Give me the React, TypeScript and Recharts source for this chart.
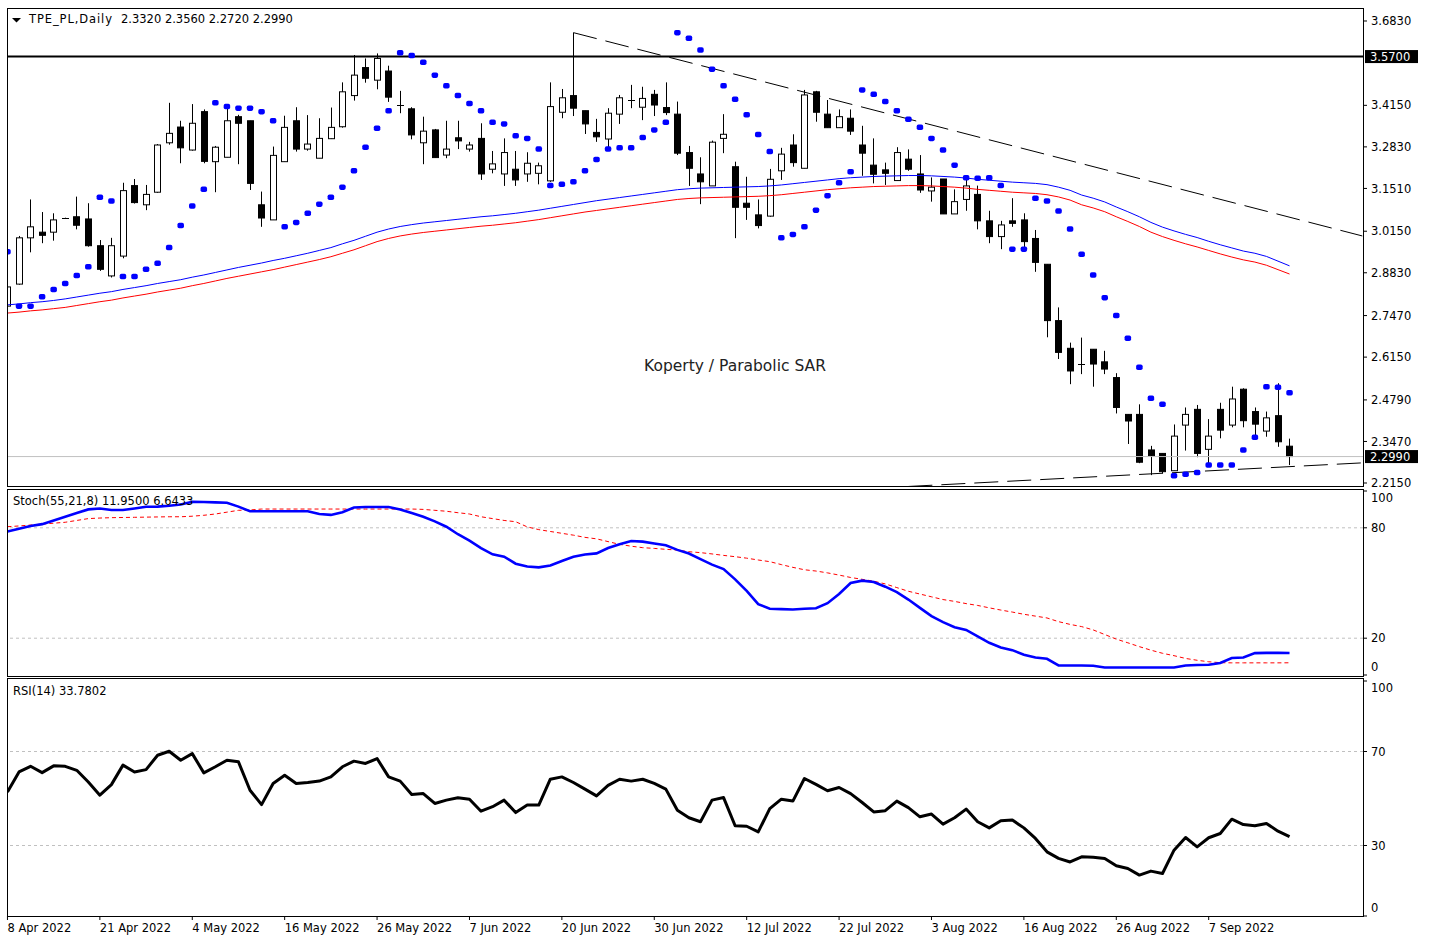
import React from 'react';
import { ComposedChart, Bar, Line, XAxis, YAxis, ReferenceLine } from 'recharts';

// daily candles, one row of 8 per date label
const OPEN = [
  2.777, 2.847, 2.994, 3.012, 3.012, 3.056, 3.061, 3.054,
  2.969, 2.873, 2.936, 3.160, 3.099, 3.139, 3.296, 3.346,
  3.273, 3.395, 3.236, 3.250, 3.379, 3.366, 3.099, 3.051,
  3.236, 3.366, 3.276, 3.247, 3.309, 3.347, 3.446, 3.535,
  3.495, 3.524, 3.416, 3.404, 3.296, 3.337, 3.257, 3.312,
  3.276, 3.310, 3.212, 3.197, 3.212, 3.197, 3.199, 3.175,
  3.393, 3.446, 3.398, 3.329, 3.308, 3.387, 3.432, 3.409,
  3.450, 3.408, 3.387, 3.265, 3.197, 3.159, 3.310, 3.220,
  3.104, 3.067, 3.063, 3.207, 3.289, 3.215, 3.458, 3.387,
  3.344, 3.374, 3.289, 3.225, 3.210, 3.176, 3.244, 3.197,
  3.143, 3.181, 3.070, 3.116, 3.132, 3.048, 2.998, 3.048,
  3.051, 2.992, 2.910, 2.731, 2.643, 2.592, 2.640, 2.600,
  2.550, 2.433, 2.433, 2.320, 2.309, 2.254, 2.399, 2.449,
  2.322, 2.449, 2.399, 2.513, 2.442, 2.380, 2.429, 2.332,
];
const HIGH = [
  2.879, 3.000, 3.116, 3.076, 3.072, 3.058, 3.125, 3.104,
  2.987, 2.994, 3.169, 3.181, 3.162, 3.292, 3.423, 3.366,
  3.419, 3.402, 3.286, 3.411, 3.385, 3.366, 3.141, 3.284,
  3.382, 3.409, 3.384, 3.374, 3.408, 3.488, 3.575, 3.564,
  3.580, 3.541, 3.461, 3.409, 3.379, 3.340, 3.366, 3.366,
  3.299, 3.358, 3.270, 3.310, 3.270, 3.266, 3.233, 3.488,
  3.467, 3.646, 3.398, 3.372, 3.406, 3.448, 3.480, 3.474,
  3.464, 3.488, 3.427, 3.286, 3.250, 3.303, 3.387, 3.236,
  3.188, 3.116, 3.213, 3.280, 3.323, 3.464, 3.461, 3.432,
  3.402, 3.402, 3.350, 3.310, 3.233, 3.282, 3.275, 3.257,
  3.186, 3.181, 3.148, 3.188, 3.160, 3.080, 3.048, 3.120,
  3.072, 3.019, 2.910, 2.773, 2.661, 2.677, 2.640, 2.635,
  2.564, 2.433, 2.465, 2.333, 2.309, 2.401, 2.455, 2.463,
  2.418, 2.470, 2.521, 2.516, 2.455, 2.442, 2.532, 2.356,
];
const LOW = [
  2.770, 2.845, 2.948, 2.977, 2.985, 3.055, 3.021, 2.966,
  2.889, 2.868, 2.929, 3.103, 3.082, 3.137, 3.290, 3.231,
  3.271, 3.231, 3.139, 3.250, 3.228, 3.146, 3.029, 3.051,
  3.236, 3.268, 3.271, 3.247, 3.308, 3.344, 3.430, 3.487,
  3.466, 3.426, 3.390, 3.307, 3.228, 3.249, 3.247, 3.276,
  3.268, 3.178, 3.199, 3.159, 3.159, 3.172, 3.164, 3.172,
  3.374, 3.381, 3.324, 3.299, 3.279, 3.356, 3.406, 3.368,
  3.381, 3.384, 3.257, 3.159, 3.101, 3.159, 3.263, 2.993,
  3.051, 3.024, 3.061, 3.178, 3.220, 3.215, 3.363, 3.344,
  3.343, 3.321, 3.191, 3.167, 3.162, 3.176, 3.207, 3.137,
  3.109, 3.070, 3.070, 3.080, 3.021, 2.977, 2.958, 3.029,
  2.965, 2.886, 2.678, 2.609, 2.529, 2.561, 2.521, 2.561,
  2.436, 2.339, 2.278, 2.240, 2.246, 2.254, 2.318, 2.297,
  2.275, 2.357, 2.392, 2.392, 2.366, 2.362, 2.330, 2.272,
];
const CLOSE = [
  2.838, 2.994, 3.029, 3.002, 3.051, 3.056, 3.034, 2.969,
  2.894, 2.969, 3.144, 3.106, 3.132, 3.289, 3.326, 3.280,
  3.358, 3.237, 3.282, 3.366, 3.358, 3.167, 3.057, 3.256,
  3.345, 3.276, 3.292, 3.310, 3.345, 3.458, 3.511, 3.501,
  3.564, 3.441, 3.413, 3.321, 3.333, 3.249, 3.276, 3.302,
  3.289, 3.197, 3.229, 3.265, 3.178, 3.231, 3.223, 3.411,
  3.439, 3.406, 3.356, 3.315, 3.390, 3.439, 3.431, 3.437,
  3.416, 3.392, 3.263, 3.215, 3.172, 3.298, 3.323, 3.091,
  3.091, 3.033, 3.180, 3.260, 3.233, 3.448, 3.393, 3.344,
  3.379, 3.333, 3.263, 3.196, 3.199, 3.265, 3.212, 3.146,
  3.155, 3.070, 3.109, 3.159, 3.048, 2.998, 3.035, 3.040,
  2.982, 2.916, 2.731, 2.630, 2.571, 2.590, 2.593, 2.577,
  2.455, 2.412, 2.281, 2.302, 2.251, 2.364, 2.433, 2.309,
  2.364, 2.383, 2.482, 2.413, 2.402, 2.422, 2.346, 2.299,
];
const SAR = [
  2.950, 2.777, 2.777, 2.807, 2.830, 2.849, 2.874, 2.902,
  3.123, 3.111, 2.871, 2.871, 2.894, 2.913, 2.963, 3.033,
  3.095, 3.148, 3.423, 3.411, 3.406, 3.406, 3.395, 3.366,
  3.029, 3.043, 3.072, 3.101, 3.123, 3.155, 3.207, 3.282,
  3.342, 3.398, 3.582, 3.573, 3.552, 3.511, 3.477, 3.446,
  3.421, 3.398, 3.361, 3.356, 3.318, 3.310, 3.276, 3.160,
  3.164, 3.172, 3.207, 3.243, 3.276, 3.280, 3.280, 3.313,
  3.337, 3.361, 3.646, 3.628, 3.591, 3.530, 3.477, 3.434,
  3.385, 3.322, 3.268, 2.994, 3.005, 3.029, 3.082, 3.128,
  3.169, 3.204, 3.464, 3.450, 3.427, 3.398, 3.371, 3.345,
  3.310, 3.273, 3.225, 3.185, 3.183, 3.185, 3.160, 2.958,
  2.958, 3.120, 3.111, 3.079, 3.022, 2.942, 2.876, 2.804,
  2.747, 2.675, 2.583, 2.484, 2.465, 2.238, 2.243, 2.248,
  2.272, 2.272, 2.272, 2.320, 2.360, 2.521, 2.519, 2.502,
];
const ENV_UPPER = [
  2.781, 2.784, 2.788, 2.791, 2.795, 2.800, 2.806, 2.812,
  2.818, 2.823, 2.830, 2.836, 2.842, 2.849, 2.855, 2.861,
  2.869, 2.876, 2.884, 2.892, 2.900, 2.907, 2.914, 2.922,
  2.929, 2.937, 2.945, 2.954, 2.963, 2.975, 2.986, 2.999,
  3.012, 3.022, 3.030, 3.036, 3.041, 3.045, 3.049, 3.053,
  3.057, 3.061, 3.064, 3.068, 3.072, 3.077, 3.082, 3.088,
  3.094, 3.100, 3.106, 3.112, 3.117, 3.122, 3.127, 3.132,
  3.137, 3.142, 3.147, 3.150, 3.152, 3.153, 3.154, 3.155,
  3.156, 3.157, 3.159, 3.162, 3.166, 3.170, 3.174, 3.178,
  3.182, 3.185, 3.187, 3.189, 3.190, 3.191, 3.192, 3.192,
  3.191, 3.189, 3.187, 3.184, 3.180, 3.177, 3.174, 3.171,
  3.169, 3.167, 3.163, 3.155, 3.145, 3.130, 3.120, 3.108,
  3.092, 3.077, 3.061, 3.043, 3.028, 3.016, 3.005, 2.995,
  2.983, 2.972, 2.962, 2.952, 2.945, 2.935, 2.920, 2.905,
];
const ENV_LOWER = [
  2.755, 2.758, 2.762, 2.765, 2.769, 2.773, 2.779, 2.785,
  2.791, 2.796, 2.803, 2.809, 2.815, 2.822, 2.828, 2.834,
  2.842, 2.849, 2.857, 2.865, 2.872, 2.879, 2.886, 2.893,
  2.901, 2.909, 2.917, 2.925, 2.934, 2.945, 2.956, 2.969,
  2.982, 2.992, 3.000, 3.006, 3.011, 3.015, 3.019, 3.023,
  3.027, 3.031, 3.034, 3.038, 3.042, 3.047, 3.052, 3.058,
  3.064, 3.070, 3.076, 3.081, 3.086, 3.091, 3.096, 3.101,
  3.106, 3.111, 3.116, 3.119, 3.121, 3.122, 3.123, 3.124,
  3.125, 3.126, 3.128, 3.131, 3.135, 3.139, 3.143, 3.147,
  3.150, 3.153, 3.155, 3.157, 3.158, 3.159, 3.160, 3.160,
  3.159, 3.157, 3.155, 3.152, 3.148, 3.145, 3.142, 3.139,
  3.137, 3.135, 3.131, 3.124, 3.114, 3.099, 3.089, 3.077,
  3.061, 3.046, 3.030, 3.012, 2.998, 2.986, 2.975, 2.965,
  2.954, 2.943, 2.933, 2.924, 2.917, 2.907, 2.893, 2.879,
];
const STOCH_MAIN = [
  78, 79.5, 81, 82, 84, 86, 88, 90,
  90.5, 89.7, 89.7, 90.5, 91.4, 91.5, 92, 92.7,
  94.1, 94, 93.8, 93.6, 91.5, 89, 89, 89,
  89, 89, 89, 87.5, 87, 88.5, 91, 91.3,
  91.3, 91.3, 90, 88, 86, 83.5, 80.6, 76.5,
  73, 69, 65.6, 64.3, 60.5, 59, 58.5, 59.5,
  62, 64.3, 65.5, 66.1, 69, 71, 72.8, 72.5,
  71.5, 70.5, 68, 66, 63, 60, 57.6, 52,
  45.7, 38.5, 36, 35.8, 35.6, 36, 36.3, 39,
  44, 50, 51.3, 50.5, 48, 45, 41, 36.5,
  32, 28.7, 26, 24.5, 21, 17.5, 15, 13.5,
  11, 9.5, 8.8, 5.2, 5.2, 5.2, 5, 4.1,
  4.1, 4.1, 4.1, 4.1, 4.1, 4.1, 5.2, 5.4,
  5.6, 6.5, 9.2, 9.5, 11.9, 12, 12, 11.95,
];
const STOCH_SIGNAL = [
  80.6, 81, 81.5, 82, 82.5, 83, 84, 85,
  85.3, 85.5, 85.6, 85.7, 85.8, 85.9, 86, 86,
  86.3, 86.8, 87.5, 88.5, 89.5, 89.7, 90.2, 90.2,
  90.2, 90.2, 90.2, 90.2, 90.2, 90.2, 90.2, 90.2,
  90.2, 90.2, 90.2, 90.2, 90, 89.5, 89, 88.2,
  87.5, 86, 85, 84, 83.3, 80.5, 79, 78,
  77, 76, 74.8, 74, 72.5, 71, 70, 69.2,
  68.8, 68.3, 67.9, 67, 66.5, 65.8, 65, 64.3,
  63.5, 62.5, 61.6, 60, 58.5, 57.2, 56.5, 55.5,
  54.3, 53, 52, 51, 49.5, 47.5, 45.5, 44,
  42.5, 41, 40, 38.8, 37.8, 36.5, 35.3, 34.2,
  33, 32, 31, 29, 27.5, 26.3, 24.5, 22,
  19.5, 17.5, 15.4, 13.5, 11.8, 10.5, 9, 8,
  7.2, 6.7, 6.6, 6.6, 6.6, 6.6, 6.6, 6.64,
];
const RSI = [
  52.8, 61.3, 63.7, 61, 63.9, 63.7, 62, 57,
  51.4, 55.9, 64.2, 61.3, 62.3, 68.4, 70.1, 66.3,
  69.1, 60.9, 63.5, 66.3, 65.6, 53.5, 47.4, 56.4,
  59.9, 56.4, 56.8, 57.4, 59.2, 63.5, 65.9, 64.9,
  67, 59.2, 57.4, 51.7, 52.1, 47.9, 49.3, 50.3,
  49.7, 44.6, 46.5, 49.3, 44, 47.2, 47.2, 58.2,
  59.2, 56.8, 54, 51.1, 55.6, 58.2, 57.4, 58.2,
  56.4, 54, 45, 41.8, 40.1, 49.3, 50.4, 38.4,
  38.2, 35.8, 45.7, 49.7, 48.9, 58.5, 56, 53.3,
  54.7, 52.1, 48.3, 44.3, 44.8, 48.9, 46.1, 42.2,
  43.4, 39.1, 41.8, 45.5, 40.1, 37.5, 40.5, 40.8,
  37.5, 33, 27.3, 24.5, 23, 25.2, 25, 24.5,
  21.4, 20.2, 17.4, 19.1, 18.1, 28, 33.4, 29.4,
  33.3, 35.1, 41.2, 38.9, 38.4, 39.4, 36.1, 33.78,
];

const DATE_TICKS = [0, 8, 16, 24, 32, 40, 48, 56, 64, 72, 80, 88, 96, 104];
const DATE_LABELS = [
  '8 Apr 2022', '21 Apr 2022', '4 May 2022', '16 May 2022', '26 May 2022', '7 Jun 2022', '20 Jun 2022',
  '30 Jun 2022', '12 Jul 2022', '22 Jul 2022', '3 Aug 2022', '16 Aug 2022', '26 Aug 2022', '7 Sep 2022',
];
const PRICE_TICKS = [3.683, 3.415, 3.283, 3.151, 3.015, 2.883, 2.747, 2.615, 2.479, 2.347, 2.215];
const STOCH_TICKS = [0, 20, 80, 100];
const RSI_TICKS = [0, 30, 70, 100];

const RESISTANCE = 3.57;
const LAST_PRICE = 2.299;
const TREND_DOWN = [{ x: 49, y: 3.646 }, { x: 117.3, y: 3.0 }];
const TREND_UP = [{ x: 78, y: 2.204 }, { x: 117.3, y: 2.279 }];

const X_DOMAIN: [number, number] = [-0.04, 117.36];
const PRICE_DOMAIN: [number, number] = [2.2023, 3.7243];

const FONT = 'DejaVu Sans';
const W = 1437;
const AXIS_W = 74;

const rows = OPEN.map((o, i) => ({
  i,
  open: o,
  high: HIGH[i],
  low: LOW[i],
  close: CLOSE[i],
  range: [LOW[i], HIGH[i]],
  sar: SAR[i],
  envUp: ENV_UPPER[i],
  envDn: ENV_LOWER[i],
  stK: STOCH_MAIN[i],
  stD: STOCH_SIGNAL[i],
  rsi: RSI[i],
}));

function Candle(props: any) {
  const { x, y, width, height, payload } = props;
  if (x == null || y == null || !payload) return null;
  const { open, close, high, low } = payload;
  const cx = Math.round(x + width / 2) + 0.5;
  const ppu = high > low ? height / (high - low) : 0;
  const yOf = (v: number) => y + (high - v) * ppu;
  const top = yOf(Math.max(open, close));
  const bot = yOf(Math.min(open, close));
  const bull = close >= open;
  return (
    <g>
      <line x1={cx} x2={cx} y1={y} y2={y + height} stroke="#000" strokeWidth={1} />
      {bot - top < 1.5 ? (
        <line x1={cx - 3.5} x2={cx + 3.5} y1={Math.round(top) + 0.5} y2={Math.round(top) + 0.5} stroke="#000" />
      ) : (
        <rect x={cx - 3} y={top} width={6} height={bot - top} fill={bull ? '#fff' : '#000'} stroke="#000" strokeWidth={1} />
      )}
    </g>
  );
}

function SarDot(props: any) {
  const { cx, cy } = props;
  if (cx == null || cy == null) return null;
  return <rect x={cx - 3.25} y={cy - 2.75} width={6.5} height={5.5} rx={1.8} fill="#0000ff" />;
}

function PriceTag(props: any) {
  const { viewBox, price } = props;
  if (!viewBox) return null;
  const x = viewBox.x + viewBox.width + 2;
  const y = viewBox.y;
  return (
    <g>
      <rect x={x} y={y - 6.5} width={53} height={13} fill="#000" />
      <text x={x + 5} y={y + 4} fill="#fff" fontSize={11.5} fontFamily={FONT}>
        {price.toFixed(4)}
      </text>
    </g>
  );
}

function PaneTick(props: any) {
  const { x, y, payload } = props;
  const v = payload.value;
  const shift = v === 100 ? 7 : v === 0 ? -8 : 0;
  return (
    <text x={x} y={y + shift} dy="0.35em" fontSize={11.5} fontFamily={FONT} fill="#000" textAnchor="start">
      {v}
    </text>
  );
}

function DateTick(props: any) {
  const { x, y, payload } = props;
  const k = DATE_TICKS.indexOf(payload.value);
  return (
    <text x={x} y={y + 10} fontSize={11.5} fontFamily={FONT} fill="#000" textAnchor="start">
      {DATE_LABELS[k]}
    </text>
  );
}

const tickStyle = { fill: '#000', fontSize: 11.5, fontFamily: FONT };

export default function App() {
  return (
    <div style={{ position: 'absolute', left: 0, top: 0, width: W, height: 936, background: '#fff', fontFamily: FONT }}>
      {/* price pane */}
      <div style={{ position: 'absolute', left: 0, top: 0 }}>
        <ComposedChart width={W} height={490} data={rows} margin={{ top: 8, right: 0, bottom: 3, left: 7 }}>
          <XAxis type="number" dataKey="i" domain={X_DOMAIN} allowDataOverflow ticks={DATE_TICKS} hide />
          <YAxis
            orientation="right"
            type="number"
            domain={PRICE_DOMAIN}
            allowDataOverflow
            ticks={PRICE_TICKS}
            interval={0}
            width={AXIS_W}
            axisLine={false}
            tickLine={{ stroke: '#000' }}
            tickSize={4}
            tickMargin={4}
            tick={tickStyle}
            tickFormatter={(v: number) => v.toFixed(4)}
          />
          <ReferenceLine y={LAST_PRICE} stroke="#c0c0c0" label={<PriceTag price={LAST_PRICE} />} />
          <ReferenceLine y={RESISTANCE} stroke="#000" strokeWidth={2} label={<PriceTag price={RESISTANCE} />} />
          <ReferenceLine segment={TREND_DOWN} stroke="#000" strokeDasharray="24 9" />
          <ReferenceLine segment={TREND_UP} stroke="#000" strokeDasharray="24 9" />
          <Line dataKey="envUp" stroke="#0000ff" strokeWidth={1} dot={false} activeDot={false} isAnimationActive={false} />
          <Line dataKey="envDn" stroke="#ff0000" strokeWidth={1} dot={false} activeDot={false} isAnimationActive={false} />
          <Bar dataKey="range" barSize={7} shape={<Candle />} isAnimationActive={false} />
          <Line dataKey="sar" stroke="none" dot={<SarDot />} activeDot={false} isAnimationActive={false} />
        </ComposedChart>
      </div>

      {/* stochastic pane */}
      <div style={{ position: 'absolute', left: 0, top: 480 }}>
        <ComposedChart width={W} height={200} data={rows} margin={{ top: 11, right: 0, bottom: 5, left: 7 }}>
          <XAxis type="number" dataKey="i" domain={X_DOMAIN} allowDataOverflow ticks={DATE_TICKS} hide />
          <YAxis
            orientation="right"
            type="number"
            domain={[0, 100]}
            allowDataOverflow
            ticks={STOCH_TICKS}
            interval={0}
            width={AXIS_W}
            axisLine={false}
            tickLine={{ stroke: '#000' }}
            tickSize={4}
            tickMargin={4}
            tick={<PaneTick />}
          />
          <ReferenceLine y={80} stroke="#c0c0c0" strokeDasharray="3 3" />
          <ReferenceLine y={20} stroke="#c0c0c0" strokeDasharray="3 3" />
          <Line dataKey="stD" stroke="#ff0000" strokeWidth={1} strokeDasharray="4 3" dot={false} activeDot={false} isAnimationActive={false} />
          <Line dataKey="stK" stroke="#0000ff" strokeWidth={2.6} dot={false} activeDot={false} isAnimationActive={false} />
        </ComposedChart>
      </div>

      {/* RSI pane */}
      <div style={{ position: 'absolute', left: 0, top: 670 }}>
        <ComposedChart width={W} height={266} data={rows} margin={{ top: 11, right: 0, bottom: 0, left: 7 }}>
          <XAxis
            type="number"
            dataKey="i"
            domain={X_DOMAIN}
            allowDataOverflow
            ticks={DATE_TICKS}
            interval={0}
            height={20}
            axisLine={false}
            tickLine={{ stroke: '#000' }}
            tickSize={4}
            tick={<DateTick />}
          />
          <YAxis
            orientation="right"
            type="number"
            domain={[0, 100]}
            allowDataOverflow
            ticks={RSI_TICKS}
            interval={0}
            width={AXIS_W}
            axisLine={false}
            tickLine={{ stroke: '#000' }}
            tickSize={4}
            tickMargin={4}
            tick={<PaneTick />}
          />
          <ReferenceLine y={70} stroke="#c0c0c0" strokeDasharray="3 3" />
          <ReferenceLine y={30} stroke="#c0c0c0" strokeDasharray="3 3" />
          <Line dataKey="rsi" stroke="#000" strokeWidth={3} strokeLinejoin="round" dot={false} activeDot={false} isAnimationActive={false} />
        </ComposedChart>
      </div>

      {/* frames and captions */}
      <svg width={W} height={936} style={{ position: 'absolute', left: 0, top: 0, pointerEvents: 'none' }}>
        <rect x={7.5} y={8.5} width={1356} height={478} fill="none" stroke="#000" />
        <rect x={7.5} y={489.5} width={1356} height={187} fill="none" stroke="#000" />
        <rect x={7.5} y={678.5} width={1356} height={238} fill="none" stroke="#000" />
        <polygon points="12,18 21,18 16.5,22.5" fill="#000" />
        <text x={29} y={23} fontSize={11.5} fontFamily={FONT} fill="#000" textLength={83}>TPE_PL,Daily</text>
        <text x={121} y={23} fontSize={11.5} fontFamily={FONT} fill="#000">2.3320 2.3560 2.2720 2.2990</text>
        <text x={735} y={371} fontSize={15.5} fontFamily={FONT} fill="#222" textAnchor="middle">Koperty / Parabolic SAR</text>
        <text x={13} y={505} fontSize={11.5} fontFamily={FONT} fill="#000">Stoch(55,21,8) 11.9500 6.6433</text>
        <text x={13} y={695} fontSize={11.5} fontFamily={FONT} fill="#000">RSI(14) 33.7802</text>
      </svg>
    </div>
  );
}
